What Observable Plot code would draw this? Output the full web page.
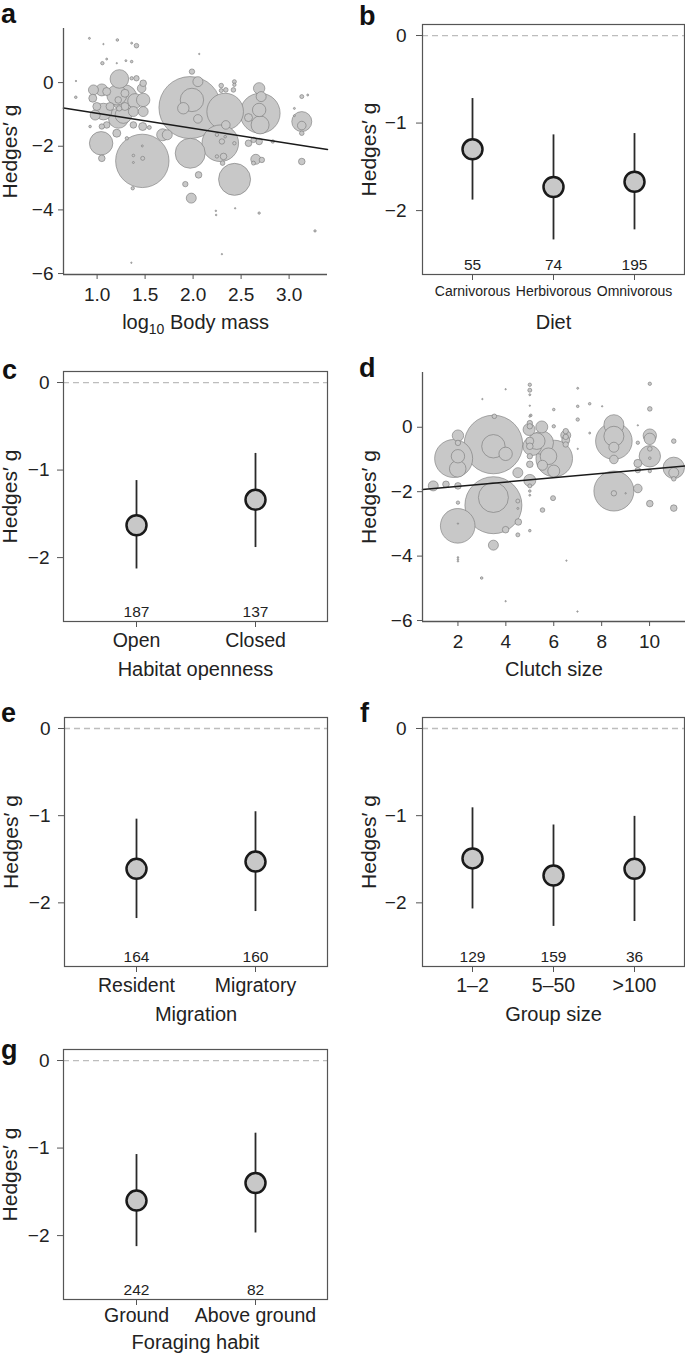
<!DOCTYPE html>
<html><head><meta charset="utf-8">
<script src="https://cdn.jsdelivr.net/npm/d3@7"></script>
<script src="https://cdn.jsdelivr.net/npm/@observablehq/plot@0.6"></script>
<style>
body{margin:0;background:#fff;}
#wrap{position:relative;width:685px;height:1354px;font-family:"Liberation Sans",Arial,Helvetica,sans-serif;color:#222;}
.panel{position:absolute;}
.letter{position:absolute;font-weight:bold;font-size:27px;line-height:1;color:#111;}
</style></head><body><div id="wrap"></div>
<script>
// ---------- Panel a: log10 body mass ----------
const massX = [1.967,1.988,2.05,2.05,1.898,2.334,2.341,2.283,1.97,2.698,2.688,2.709,2.688,2.698,2.577,3.132,3.132,3.132,3.132,3.194,3.055,3.055,2.577,2.688,2.83,2.63,2.30,2.248,2.334,2.43,2.653,2.716,2.629,2.317,2.248,2.307,3.132,2.432,2.057,1.981,1.919,2.237,2.24,2.438,2.688,3.27,2.30,1.357,2.064,1.988,2.293,2.293,2.341,2.43,2.43,2.42,1.232,1.471,1.042,1.049,1.371,1.378,1.475,1.378,1.471,0.92,1.066,1.211,1.36,1.41,1.10,1.055,1.205,1.30,1.36,0.78,0.778,0.962,1.049,0.955,0.997,0.98,1.066,1.205,1.29,1.22,1.395,1.48,1.48,1.464,1.378,1.48,1.274,1.222,1.135,1.29,1.36,1.41,1.10,0.927,1.049,1.10,1.205,1.31,1.378,1.475,1.544,1.683,1.731,1.23,1.28];
const massY = [-0.785,-0.545,0.03,-1.14,-0.806,-0.91,-1.33,-1.906,-2.22,-0.963,-0.18,-0.44,-0.86,-1.33,-1.10,-1.225,-1.35,-1.59,-0.44,-0.39,-0.81,-1.04,-1.906,-1.85,-1.85,-1.80,-1.85,-1.64,-1.70,-1.906,-2.41,-2.43,-2.53,-2.32,-2.32,-2.53,-2.48,-3.04,-2.90,-3.63,-3.19,-4.03,-4.16,-3.95,-4.10,-4.66,-5.39,-5.66,0.90,0.345,-0.094,-0.25,-0.23,0.03,-0.07,-0.23,0.115,-2.46,-1.906,-2.38,-3.32,-2.29,-2.38,-2.51,-1.99,1.39,1.21,1.34,1.24,1.16,0.74,0.61,0.61,0.69,0.66,0.05,-0.46,-0.23,-0.23,-0.49,-0.75,-1.02,-0.91,-0.39,-0.335,-0.545,-0.576,-0.545,-0.02,-0.18,-0.91,-0.91,-1.02,-1.12,-0.75,-0.75,0.136,0.136,-0.28,-1.38,-1.38,-1.33,-1.59,-1.75,-1.33,-1.38,-1.41,-1.64,-1.64,-0.81,-0.47];
const massW = [31,11.7,5,4.3,5.7,18.3,4.3,18.3,15,20,5.7,5,6.7,9,4,10,4.3,2.3,2,1,1,1,3.3,3.3,1.7,2.7,2.7,1.7,1.3,1.7,5,2.7,2,3.3,1.7,2.3,3.3,16,3.3,5,2.7,0.8,0.8,0.7,1.2,1.2,0.7,0.7,0.7,2.7,2.3,2,2.3,2,1.7,2.3,9.3,26.7,11.7,3.3,1.7,1.3,2,1,1,1,0.7,1.3,1,2.3,1,1.7,0.7,1,1.3,0.7,1.3,5,6,4,4,5,8.3,10,4,3.3,7.3,6.7,3.3,4.3,5,5,8.3,10,4,4,1.7,2.7,4,1.3,2.7,3.3,4,1.7,3.3,4,2,6,5,2.7,13];
const massLineX = [0.65, 3.4];
const massLineY = [-0.80, -2.10];
const massTicks = [1.0, 1.5, 2.0, 2.5, 3.0];

// ---------- Panel d: clutch size ----------
const clutchX = [3.48,3.48,3.99,1.82,1.99,2.0,2.0,2.0,3.48,3.48,1.99,3.48,0.97,1.5,2.0,2.0,2.0,2.0,2.0,2.99,3.99,3.99,3.02,3.52,4.5,4.5,4.5,4.52,3.99,4.5,5.0,5.53,5.97,5.0,5.0,5.0,5.0,5.0,5.0,5.0,4.97,5.0,5.0,5.0,5.0,5.0,5.0,5.0,5.0,5.5,5.53,5.29,5.78,6.02,6.0,6.5,6.5,6.5,6.0,7.0,7.0,7.0,7.0,7.5,7.5,8.02,8.51,8.51,8.51,8.51,8.51,8.51,8.51,9.0,9.51,9.51,9.51,9.51,9.51,10.01,10.01,10.01,10.01,10.01,10.01,10.01,10.01,10.01,11.01,11.01,11.01,11.01,11.01,6.53,6.99,6.0,2.0,5.5,5.1,6.5,6.5,5.04];
const clutchY = [-0.535,-0.59,-0.825,-0.97,-1.29,-0.90,-0.26,-0.485,-2.42,-2.18,-3.06,-3.66,-1.82,-1.77,-1.82,-2.34,-4.04,-4.10,-4.16,-4.68,-5.4,1.18,0.875,0.34,-1.41,-2.29,-2.52,-2.94,-3.18,-3.34,-3.21,-2.57,-2.2,1.32,1.15,1.01,0.67,0.34,0.13,0.03,-0.07,-0.43,-0.59,-0.90,-1.15,-1.65,-1.82,-1.98,-2.11,0.01,-1.18,-0.43,-0.9,-0.97,-1.36,-0.25,-0.30,-0.535,0.03,1.21,0.65,0.24,-0.67,0.73,-0.18,0.65,0.08,-0.43,-0.28,-0.62,-1.0,-1.98,-2.05,-2.05,-1.9,-1.12,-1.33,-0.48,0.06,-0.26,-0.9,-0.36,-0.67,-0.96,-1.36,0.57,1.35,-2.37,-1.26,-1.41,-1.6,-0.43,-2.51,-4.14,-5.72,0.55,-2.99,-0.48,-0.59,-0.12,-0.40,0.37];
const clutchW = [29.3,11.7,6.7,19,8.3,6.7,5.7,2.7,28.5,15,17.3,5,5,3.3,3.3,1.7,0.8,0.8,0.8,1.3,0.7,0.7,0.7,2.3,5,2,1,3.3,3.3,2,1.3,2.3,2.5,1.7,2,1,0.7,1,2.7,2.7,6,4,3.3,2.7,3.3,6,2,1.3,1,6,5,8.3,8.3,18.3,6,5,2.7,2.7,1.7,1,1.3,1.7,0.7,1.3,1,0.7,10,18.3,10,5,4.3,20,2.7,0.7,4.3,4,2.7,1.7,0.7,6.7,10.7,5.7,2.3,1.3,1.7,2.3,1.7,3.3,10.7,5,2.3,2.3,3.3,0.7,0.7,1.3,0.7,11.7,9.3,2.7,4,1.3];
const clutchLineX = [0.52, 11.5];
const clutchLineY = [-1.93, -1.205];
const clutchTicks = [2, 4, 6, 8, 10];

// ---------- Categorical panels ----------
const dietCats = ["Carnivorous", "Herbivorous", "Omnivorous"];
const dietMean = [-1.30, -1.73, -1.67];
const dietLo = [-1.88, -2.335, -2.22];
const dietHi = [-0.72, -1.135, -1.12];
const dietN = [55, 74, 195];

const habitatCats = ["Open", "Closed"];
const habitatMean = [-1.63, -1.34];
const habitatLo = [-2.13, -1.885];
const habitatHi = [-1.12, -0.81];
const habitatN = [187, 137];

const migCats = ["Resident", "Migratory"];
const migMean = [-1.61, -1.527];
const migLo = [-2.18, -2.10];
const migHi = [-1.04, -0.955];
const migN = [164, 160];

const groupCats = ["1–2", "5–50", ">100"];
const groupMean = [-1.49, -1.687, -1.61];
const groupLo = [-2.07, -2.27, -2.214];
const groupHi = [-0.91, -1.107, -1.008];
const groupN = [129, 159, 36];

const forageCats = ["Ground", "Above ground"];
const forageMean = [-1.60, -1.40];
const forageLo = [-2.126, -1.97];
const forageHi = [-1.074, -0.83];
const forageN = [242, 82];

const scatterYDomain = [-6.03, 1.7];
const scatterYTicks = [0, -2, -4, -6];
const catYDomain = [-2.73, 0.126];
const catYTicks = [0, -1, -2];
const yTitle = "Hedges′ g";

// ---------- helpers ----------
const FONT = '"Liberation Sans", Arial, Helvetica, sans-serif';
const wrap = document.getElementById("wrap");
const AX = "#555";
const intFmt = d3.format("d");
function place(el, left, top) {
  const d = document.createElement("div");
  d.className = "panel";
  d.style.left = left + "px";
  d.style.top = top + "px";
  d.appendChild(el);
  wrap.appendChild(d);
}
function letter(t, left, top) {
  const d = document.createElement("div");
  d.className = "letter";
  d.textContent = t;
  d.style.left = left + "px";
  d.style.top = top + "px";
  wrap.appendChild(d);
}
const baseStyle = {fontFamily: FONT, fontSize: "18px", color: "#222", background: "transparent", overflow: "visible"};

function scatterPanel(o) {
  const data = o.xs.map((x, i) => ({x, y: o.ys[i], w: o.ws[i]}));
  const line = o.lx.map((x, i) => ({x, y: o.ly[i]}));
  const mt = 30, mb = 65;
  const H = o.box.bottom - o.box.top + mt + mb;
  const svg = Plot.plot({
    width: o.svgW, height: H,
    marginLeft: o.box.left - o.svgLeft,
    marginRight: o.svgLeft + o.svgW - o.box.right,
    marginTop: mt, marginBottom: mb,
    x: {domain: o.xDomain},
    y: {domain: scatterYDomain},
    r: {type: "linear", domain: [0, 30], range: [0, 30]},
    style: baseStyle,
    marks: [
      Plot.dot(data, {x: "x", y: "y", r: "w", fill: "#c8c8c8", stroke: "#767676", strokeWidth: 0.6}),
      Plot.line(line, {x: "x", y: "y", stroke: "#1a1a1a", strokeWidth: 1.5}),
      Plot.ruleX([o.xDomain[0]], {y1: scatterYDomain[0], y2: scatterYDomain[1], stroke: AX, strokeWidth: 1.3}),
      Plot.ruleY([scatterYDomain[0]], {x1: o.xDomain[0], x2: o.xDomain[1], stroke: AX, strokeWidth: 1.3}),
      Plot.axisX(o.ticks, {tickSize: 5, tickPadding: 8, fontSize: 19, stroke: AX, tickFormat: o.fmt, label: null}),
      Plot.axisY(scatterYTicks, {tickSize: 5, tickPadding: 5, fontSize: 19, stroke: AX, tickFormat: intFmt, label: null}),
      Plot.text([yTitle], {frameAnchor: "left", rotate: -90, dx: -61, lineAnchor: "top", textAnchor: "middle", fontSize: 21}),
      Plot.text([o.title], {frameAnchor: "bottom", dy: 40, lineAnchor: "top", fontSize: 20})
    ]
  });
  if (o.sub) {
    svg.querySelectorAll("text").forEach(t => {
      if (t.textContent === o.title) {
        const ns = "http://www.w3.org/2000/svg";
        t.textContent = "";
        const a = document.createElementNS(ns, "tspan"); a.textContent = "log";
        const b = document.createElementNS(ns, "tspan"); b.textContent = "10"; b.setAttribute("font-size", "14"); b.setAttribute("dy", "5");
        const c = document.createElementNS(ns, "tspan"); c.textContent = " Body mass"; c.setAttribute("dy", "-5");
        t.append(a, b, c);
      }
    });
  }
  place(svg, o.svgLeft, o.box.top - mt);
}

function catPanel(o) {
  const data = o.cats.map((c, i) => ({cat: c, mean: o.mean[i], lo: o.lo[i], hi: o.hi[i], n: o.n[i]}));
  const mt = 30, mb = 65;
  const H = o.box.bottom - o.box.top + mt + mb;
  const svg = Plot.plot({
    width: o.svgW, height: H,
    marginLeft: o.box.left - o.svgLeft,
    marginRight: o.svgLeft + o.svgW - o.box.right,
    marginTop: mt, marginBottom: mb,
    x: {type: "point", domain: o.cats, padding: 0.6},
    y: {domain: catYDomain},
    style: baseStyle,
    marks: [
      Plot.ruleY([0], {stroke: "#bdbdbd", strokeWidth: 1.3, strokeDasharray: "6,4"}),
      Plot.ruleX(data, {x: "cat", y1: "lo", y2: "hi", stroke: "#2a2a2a", strokeWidth: 1.8}),
      Plot.dot(data, {x: "cat", y: "mean", r: 10, fill: "#c8c8c8", stroke: "#1a1a1a", strokeWidth: 2.5}),
      Plot.text(data, {x: "cat", text: d => String(d.n), frameAnchor: "bottom", dy: -5, lineAnchor: "bottom", fontSize: 15.5}),
      Plot.frame({stroke: AX, strokeWidth: 1.2}),
      Plot.axisX({tickSize: 6, tickPadding: o.tp ?? 6, fontSize: o.catFont ?? 19.5, stroke: AX, label: null}),
      Plot.axisY(catYTicks, {tickSize: 6, tickPadding: o.ytp ?? 8, fontSize: 19, stroke: AX, tickFormat: intFmt, label: null}),
      Plot.text([yTitle], {frameAnchor: "left", rotate: -90, dx: -61, lineAnchor: "top", textAnchor: "middle", fontSize: 21}),
      Plot.text([o.title], {frameAnchor: "bottom", dy: o.tdy ?? 40, lineAnchor: "top", fontSize: 20})
    ]
  });
  place(svg, o.svgLeft, o.box.top - mt);
}

const L = {svgLeft: 0, svgW: 343};
const R = {svgLeft: 343, svgW: 342};

scatterPanel({...L, box: {left: 63, right: 327, top: 28, bottom: 274},
  xs: massX, ys: massY, ws: massW, lx: massLineX, ly: massLineY,
  xDomain: [0.65, 3.4], ticks: massTicks, fmt: d3.format(".1f"), title: "log10 Body mass", sub: true});

catPanel({...R, box: {left: 422, right: 684, top: 24, bottom: 274},
  cats: dietCats, mean: dietMean, lo: dietLo, hi: dietHi, n: dietN, title: "Diet", catFont: 14, ytp: 10});

catPanel({...L, box: {left: 63, right: 327, top: 371, bottom: 621},
  cats: habitatCats, mean: habitatMean, lo: habitatLo, hi: habitatHi, n: habitatN, title: "Habitat openness"});

scatterPanel({svgLeft: 343, svgW: 342, box: {left: 422, right: 685, top: 372, bottom: 621},
  xs: clutchX, ys: clutchY, ws: clutchW, lx: clutchLineX, ly: clutchLineY,
  xDomain: [0.52, 11.5], ticks: clutchTicks, fmt: intFmt, title: "Clutch size"});

catPanel({...L, box: {left: 64, right: 327, top: 717, bottom: 966},
  cats: migCats, mean: migMean, lo: migLo, hi: migHi, n: migN, title: "Migration"});

catPanel({...R, box: {left: 422, right: 684, top: 717, bottom: 966},
  cats: groupCats, mean: groupMean, lo: groupLo, hi: groupHi, n: groupN, title: "Group size", ytp: 10});

catPanel({...L, box: {left: 63, right: 327, top: 1049, bottom: 1299},
  cats: forageCats, mean: forageMean, lo: forageLo, hi: forageHi, n: forageN, title: "Foraging habit", tp: 3, tdy: 35});

letter("a", 1, 1);
letter("b", 359, 3);
letter("c", 2, 357);
letter("d", 359, 355);
letter("e", 1, 700);
letter("f", 360, 700);
letter("g", 1, 1037);
</script></body></html>
